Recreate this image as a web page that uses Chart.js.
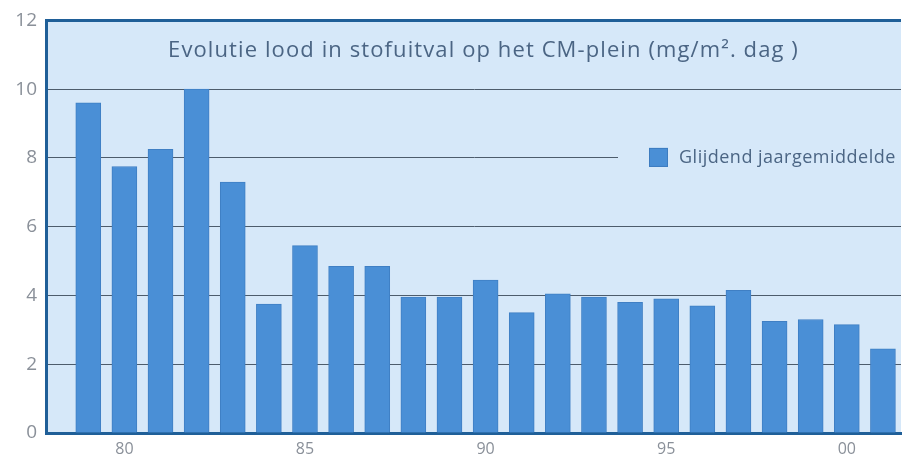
<!DOCTYPE html>
<html lang="nl">
<head>
    <meta charset="UTF-8">
    <title>Evolutie lood in stofuitval</title>
    <script src="https://cdn.jsdelivr.net/npm/chart.js"></script>
    <style>
        body { margin: 0; background: #fff; }
        #wrap { width: 902px; height: 464px; }
    </style>
</head>
<body>
<div id="wrap"><canvas id="loodChart"></canvas></div>

<script>
    // jaren en glijdend jaargemiddelde (mg/m².dag)
    const years = [1979, 1980, 1981, 1982, 1983, 1984, 1985, 1986, 1987, 1988, 1989, 1990,
                   1991, 1992, 1993, 1994, 1995, 1996, 1997, 1998, 1999, 2000, 2001];
    const lead = [9.6, 7.75, 8.25, 10.0, 7.3, 3.75, 5.45, 4.85, 4.85, 3.95, 3.95, 4.45,
                  3.5, 4.05, 3.95, 3.8, 3.9, 3.7, 4.15, 3.25, 3.3, 3.15, 2.45];
    const tickYears = [1980, 1985, 1990, 1995, 2000];
    const titleText = 'Evolutie lood in stofuitval op het CM-plein (mg/m². dag )';
    const seriesLabel = 'Glijdend jaargemiddelde';

    const plotBg = '#d6e8f9';
    const frame = '#1f5f98';
    const barColor = '#4a8fd6';

    const decor = {
        id: 'decor',
        beforeDraw(chart) {
            const a = chart.chartArea, c = chart.ctx;
            c.save();
            c.fillStyle = plotBg;
            c.fillRect(a.left, a.top, a.right - a.left, a.bottom - a.top);
            c.restore();
        },
        afterDraw(chart) {
            const a = chart.chartArea, c = chart.ctx;
            const y8 = chart.scales.y.getPixelForValue(8);
            c.save();
            // titel in het plotvlak
            c.fillStyle = '#4b6584';
            c.font = '22px "Open Sans", sans-serif';
            c.letterSpacing = '1.1px';
            c.textAlign = 'center';
            c.textBaseline = 'middle';
            c.fillText(titleText, (a.left + a.right) / 2 + 10, a.top + 30);
            // legende op de 8-lijn
            c.fillStyle = plotBg;
            c.fillRect(618, y8 - 14, a.right - 618, 28);
            const ds = chart.data.datasets[0];
            c.fillStyle = ds.backgroundColor;
            c.fillRect(649, y8 - 10, 19, 19);
            c.strokeStyle = '#3d7cc0';
            c.lineWidth = 1;
            c.strokeRect(649.5, y8 - 9.5, 18, 18);
            c.fillStyle = '#4b6584';
            c.font = '18px "Open Sans", sans-serif';
            c.letterSpacing = '0.5px';
            c.textAlign = 'left';
            c.fillText(ds.label, 679, y8);
            c.restore();
        }
    };

    const ctx = document.getElementById('loodChart').getContext('2d');
    new Chart(ctx, {
        type: 'bar',
        data: {
            datasets: [{
                label: seriesLabel,
                data: years.map((yr, i) => ({ x: yr, y: lead[i] })),
                backgroundColor: barColor,
                borderColor: '#3f7fc4',
                borderWidth: 1,
                barThickness: 25
            }]
        },
        options: {
            responsive: true,
            maintainAspectRatio: false,
            animation: false,
            layout: { padding: { top: 20, right: 1, left: 0, bottom: 0 } },
            plugins: {
                legend: { display: false },
                title: { display: false },
                tooltip: { enabled: false }
            },
            scales: {
                x: {
                    type: 'linear',
                    offset: false,
                    min: 1977.83,
                    max: 2001.5,
                    afterBuildTicks: s => { s.ticks = tickYears.map(v => ({ value: v })); },
                    grid: { display: false, drawTicks: false, offset: false },
                    border: { color: frame, width: 3 },
                    ticks: {
                        color: '#8a9099',
                        font: { size: 16, family: '"Open Sans", sans-serif' },
                        padding: 7,
                        maxRotation: 0,
                        callback: v => String(v % 100).padStart(2, '0')
                    },
                    afterFit: s => { s.height = 31; }
                },
                y: {
                    min: 0,
                    max: 12,
                    ticks: {
                        stepSize: 2,
                        color: '#8a9099',
                        font: { size: 19, family: '"Open Sans", sans-serif' },
                        padding: 9
                    },
                    grid: {
                        drawTicks: false,
                        color: c => c.tick && c.tick.value === 12 ? frame : '#4d5c6c',
                        lineWidth: c => c.tick && c.tick.value === 12 ? 3 : 1
                    },
                    border: { color: frame, width: 3 },
                    afterFit: s => { s.width = 46; }
                }
            }
        },
        plugins: [decor]
    });
</script>
</body>
</html>
